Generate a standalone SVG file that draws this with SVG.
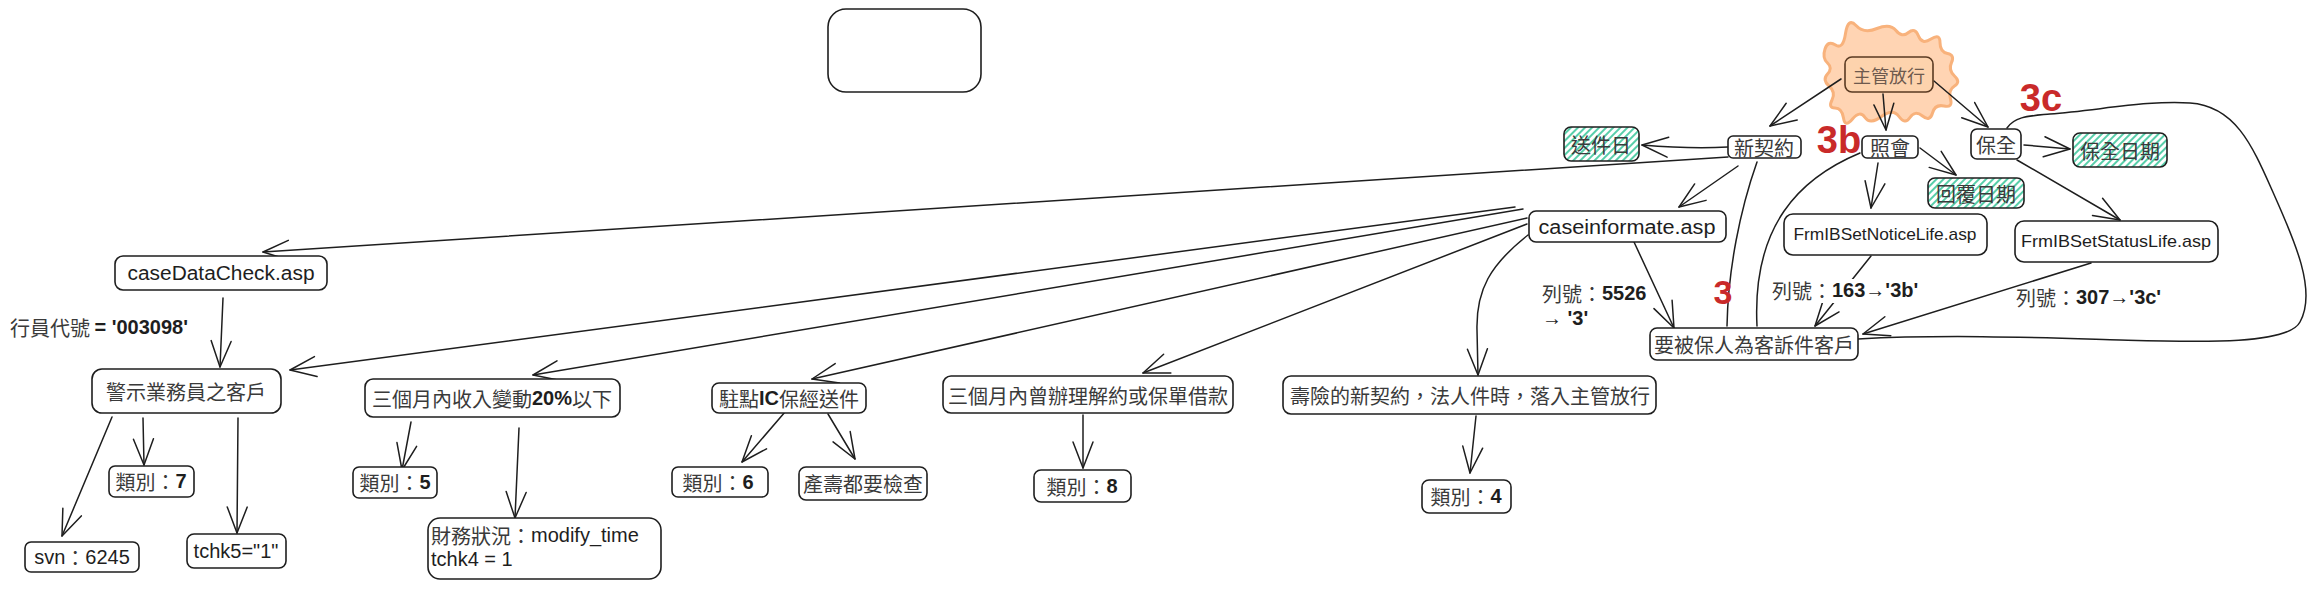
<svg xmlns="http://www.w3.org/2000/svg" width="2320" height="589" viewBox="0 0 2320 589">
<style>
.box{fill:#ffffff;stroke:#1e1e1e;stroke-width:1.6}
.hbox{fill:url(#hatch);stroke:#1e1e1e;stroke-width:1.6}
.t{font-family:"Noto Sans CJK TC","Liberation Sans",sans-serif;font-size:20px;fill:#3a3a3a;text-anchor:middle;dominant-baseline:central}
.l{text-anchor:start}
.b{font-family:"Liberation Sans","Noto Sans CJK TC",sans-serif;font-weight:bold;fill:#1e1e1e}
.v{font-family:"Liberation Sans","Noto Sans CJK TC",sans-serif;fill:#1e1e1e}
.e{fill:none;stroke:#1e1e1e;stroke-width:1.5;stroke-linecap:round}
.a{marker-end:url(#ah)}
.red{font-family:"Liberation Sans",sans-serif;font-weight:bold;fill:#c92a2a;font-size:38px;text-anchor:middle;dominant-baseline:central}
</style>
<defs>
<pattern id="hatch" patternUnits="userSpaceOnUse" width="5" height="5" patternTransform="rotate(45)">
<rect width="5" height="5" fill="#ffffff"/>
<line x1="1" y1="0" x2="1" y2="5" stroke="#45c9a0" stroke-width="1.8"/>
</pattern>
<marker id="ah" markerUnits="userSpaceOnUse" viewBox="0 0 30 24" markerWidth="30" markerHeight="24" refX="28" refY="12" orient="auto">
<path d="M2,2 L28,12 L2,22" fill="none" stroke="#1e1e1e" stroke-width="1.5" stroke-linecap="round" stroke-linejoin="round"/>
</marker>
</defs>
<rect width="2320" height="589" fill="#ffffff"/>

<g id="n-burst">
<path d="M1825,49 Q1828,40 1835.5,45 Q1843,50 1845.5,33.5 Q1848,17 1856,25.5 Q1864,34 1877,28.5 Q1890,23 1896,30.5 Q1902,38 1908.5,32.5 Q1915,27 1918.5,36 Q1922,45 1931,39 Q1940,33 1940,42.5 Q1940,52 1947.5,53.5 Q1955,55 1951.5,62.5 Q1948,70 1954.5,76 Q1961,82 1954.5,86 Q1948,90 1950.5,99 Q1953,108 1944,106 Q1935,104 1932.5,113 Q1930,122 1922.5,116 Q1915,110 1910,117.5 Q1905,125 1899,116.5 Q1893,108 1881.5,116.5 Q1870,125 1865,117.5 Q1860,110 1852.5,119 Q1845,128 1843.5,118 Q1842,108 1835,108 Q1828,108 1832,100 Q1836,92 1829,86 Q1822,80 1827.5,74 Q1833,68 1827.5,63 Q1822,58 1825,49 Z" fill="#ffc9a0" fill-opacity="0.8" stroke="#f8b27c" stroke-width="3" stroke-linejoin="round"/>
</g>

<g id="connectors">
<path class="e a" d="M1841,79 L1770,126"/>
<path class="e a" d="M1883,94 L1886,130"/>
<path class="e a" d="M1934,81 L1988,127"/>
<path class="e a" d="M1728,147 Q1690,149 1642,145"/>
<path class="e a" d="M1728,157 L263,252"/>
<path class="e a" d="M1738,166 L1679,207"/>
<path class="e" d="M1757,162 C1740,210 1728,270 1727,326"/>
<path class="e" d="M1860,153 C1800,178 1752,225 1757,326"/>
<path class="e a" d="M1878,163 L1871,208"/>
<path class="e a" d="M1920,148 L1956,175"/>
<path class="e a" d="M2024,145 L2070,149"/>
<path class="e a" d="M2017,160 L2120,220"/>
<path class="e" d="M2007,128 C2015,116 2030,116 2050,114 C2100,110 2150,100 2190,103 C2235,106 2252,145 2272,190 C2292,235 2318,290 2300,322 C2288,345 2200,342 2120,340 C2050,338 1950,334 1858,339"/>
<path class="e a" d="M1634,242 L1674,328"/>
<path class="e a" d="M1871,256 L1815,326"/>
<path class="e a" d="M2091,263 L1863,334"/>
<path class="e a" d="M1515,207 L290,370"/>
<path class="e a" d="M1523,209 L533,375"/>
<path class="e a" d="M1527,218 L812,379"/>
<path class="e a" d="M1527,224 L1143,373"/>
<path class="e a" d="M1528,235 C1490,265 1476,290 1477,330 L1478,375"/>
<path class="e a" d="M223,298 L220,367"/>
<path class="e a" d="M112,417 L62,536"/>
<path class="e a" d="M143,418 L144,465"/>
<path class="e a" d="M238,418 L237,533"/>
<path class="e a" d="M411,422 L402,470"/>
<path class="e a" d="M519,428 L515,518"/>
<path class="e a" d="M785,412 L742,462"/>
<path class="e a" d="M828,414 L855,459"/>
<path class="e a" d="M1083,415 L1083,468"/>
<path class="e a" d="M1476,416 L1470,473"/>
</g>

<g id="edge-labels">
<text class="t l" x="10" y="327">行員代號 <tspan class="b">= '003098'</tspan></text>
<text class="t l" x="1542" y="293">列號：<tspan class="b">5526</tspan></text>
<text class="t l" x="1542" y="318"><tspan class="b">→ '3'</tspan></text>
<rect x="1770" y="279" width="142" height="24" fill="#ffffff"/>
<text class="t l" x="1772" y="290">列號：<tspan class="b">163→'3b'</tspan></text>
<text class="t l" x="2016" y="297">列號：<tspan class="b">307→'3c'</tspan></text>
</g>

<g id="n-empty"><rect class="box" x="828" y="9" width="153" height="83" rx="18"/></g>

<g id="n-zhuguan"><rect x="1845" y="57" width="88" height="35" rx="7" fill="#fdd3ad" stroke="#5a3a22" stroke-width="1.6"/><text class="t" x="1889" y="75" style="font-size:18px;fill:#6e5a4e">主管放行</text></g>

<g id="n-xinqiyue"><rect class="box" x="1728" y="136" width="73" height="22" rx="5"/><text class="t" x="1764" y="147">新契約</text></g>
<g id="n-songjianri"><rect class="hbox" x="1564" y="127" width="75" height="34" rx="7"/><text class="t" x="1601" y="144">送件日</text></g>
<g id="n-zhaohui"><rect class="box" x="1862" y="136" width="56" height="22" rx="5"/><text class="t" x="1890" y="147">照會</text></g>
<g id="n-baoquan"><rect class="box" x="1971" y="129" width="50" height="30" rx="6"/><text class="t" x="1996" y="144">保全</text></g>
<g id="n-baoquanriqi"><rect class="hbox" x="2073" y="133" width="94" height="34" rx="7"/><text class="t" x="2120" y="150">保全日期</text></g>
<g id="n-huifuriqi"><rect class="hbox" x="1928" y="178" width="96" height="30" rx="7"/><text class="t" x="1976" y="193">回覆日期</text></g>

<g id="n-caseinformate"><rect class="box" x="1529" y="211" width="197" height="31" rx="7"/><text class="t v" x="1627" y="227" textLength="177" lengthAdjust="spacingAndGlyphs">caseinformate.asp</text></g>
<g id="n-notice"><rect class="box" x="1784" y="214" width="203" height="41" rx="9"/><text class="t v" x="1885" y="234" style="font-size:17px" textLength="183" lengthAdjust="spacingAndGlyphs">FrmIBSetNoticeLife.asp</text></g>
<g id="n-status"><rect class="box" x="2015" y="221" width="203" height="41" rx="9"/><text class="t v" x="2116" y="241" style="font-size:17px" textLength="190" lengthAdjust="spacingAndGlyphs">FrmIBSetStatusLife.asp</text></g>
<g id="n-kesu"><rect class="box" x="1650" y="328" width="208" height="32" rx="7"/><text class="t" x="1754" y="344">要被保人為客訴件客戶</text></g>

<g id="n-casedatacheck"><rect class="box" x="115" y="256" width="212" height="34" rx="8"/><text class="t v" x="221" y="273" textLength="187" lengthAdjust="spacingAndGlyphs">caseDataCheck.asp</text></g>
<g id="n-jingshi"><rect class="box" x="92" y="369" width="189" height="44" rx="10"/><text class="t" x="186" y="391">警示業務員之客戶</text></g>
<g id="n-shouru"><rect class="box" x="365" y="379" width="255" height="38" rx="8"/><text class="t" x="492" y="398">三個月內收入變動<tspan class="b">20%</tspan>以下</text></g>
<g id="n-zhudian"><rect class="box" x="712" y="383" width="154" height="30" rx="7"/><text class="t" x="789" y="398">駐點<tspan class="b">IC</tspan>保經送件</text></g>
<g id="n-jieyue"><rect class="box" x="943" y="376" width="290" height="37" rx="8"/><text class="t" x="1088" y="395">三個月內曾辦理解約或保單借款</text></g>
<g id="n-shouxian"><rect class="box" x="1283" y="376" width="373" height="38" rx="8"/><text class="t" x="1470" y="395">壽險的新契約，法人件時，落入主管放行</text></g>

<g id="n-lb7"><rect class="box" x="109" y="466" width="85" height="31" rx="6"/><text class="t" x="151" y="481">類別：<tspan class="b">7</tspan></text></g>
<g id="n-svn"><rect class="box" x="25" y="542" width="114" height="30" rx="6"/><text class="t" x="82" y="557"><tspan class="v">svn</tspan>：<tspan class="v">6245</tspan></text></g>
<g id="n-tchk5"><rect class="box" x="187" y="534" width="99" height="34" rx="7"/><text class="t v" x="236" y="551">tchk5="1"</text></g>
<g id="n-lb5"><rect class="box" x="353" y="467" width="84" height="31" rx="6"/><text class="t" x="395" y="482">類別：<tspan class="b">5</tspan></text></g>
<g id="n-caiwu"><rect class="box" x="428" y="518" width="233" height="61" rx="12"/><text class="t l" x="431" y="535">財務狀況：<tspan class="v">modify_time</tspan></text><text class="t l v" x="431" y="559">tchk4 = 1</text></g>
<g id="n-lb6"><rect class="box" x="672" y="467" width="96" height="30" rx="6"/><text class="t" x="718" y="482">類別：<tspan class="b">6</tspan></text></g>
<g id="n-chanshou"><rect class="box" x="799" y="467" width="128" height="33" rx="7"/><text class="t" x="863" y="483">產壽都要檢查</text></g>
<g id="n-lb8"><rect class="box" x="1034" y="470" width="97" height="32" rx="7"/><text class="t" x="1082" y="486">類別：<tspan class="b">8</tspan></text></g>
<g id="n-lb4"><rect class="box" x="1422" y="480" width="89" height="33" rx="7"/><text class="t" x="1466" y="496">類別：<tspan class="b">4</tspan></text></g>

<g id="red-marks">
<text class="red" x="1839" y="140">3b</text>
<text class="red" x="2041" y="98">3c</text>
<text class="red" x="1723" y="292" style="font-size:34px">3</text>
</g>
</svg>
